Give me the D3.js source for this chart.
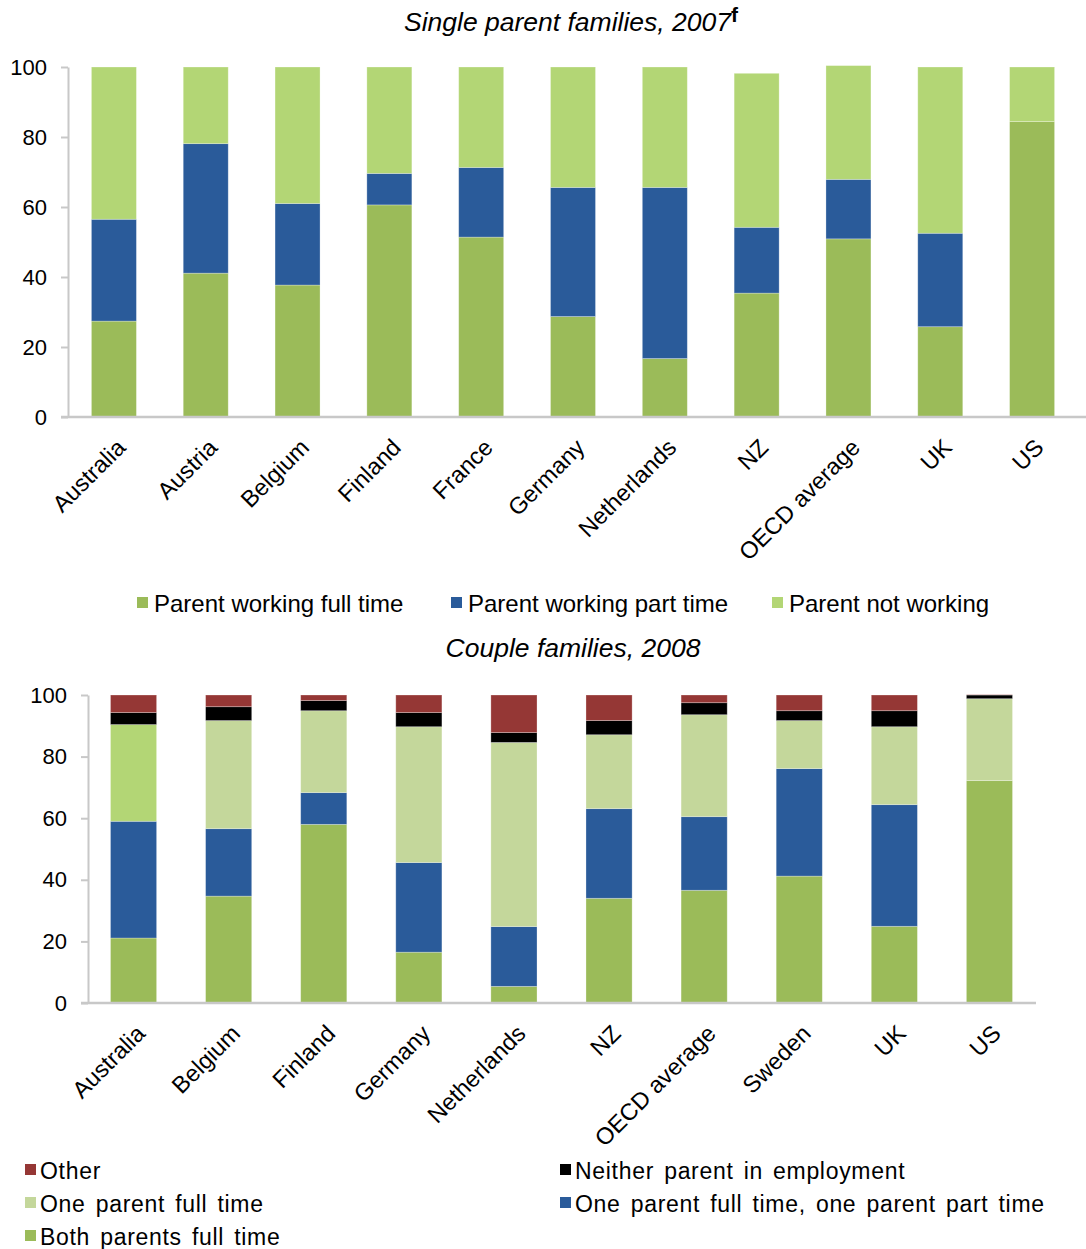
<!DOCTYPE html>
<html>
<head>
<meta charset="utf-8">
<script src="https://cdn.jsdelivr.net/npm/d3@7"></script>
<style>
  body { margin: 0; background: #fff; }
  text { font-family: "Liberation Sans", Arial, sans-serif; fill: #000; }
</style>
</head>
<body>
<div id="chart"></div>
<script>
// single parent families, 2007
var singleCountries = ["Australia", "Austria", "Belgium", "Finland", "France", "Germany",
  "Netherlands", "NZ", "OECD average", "UK", "US"];
var singleFull    = [27.4, 41.1, 37.7, 60.6, 51.4, 28.7, 16.7, 35.4, 50.9, 25.8, 84.4];
var singlePart    = [29.1, 37.0, 23.3,  9.0, 19.9, 36.9, 48.9, 18.8, 17.0, 26.7,  0.0];
var singleNotWork = [43.5, 21.9, 39.0, 30.4, 28.7, 34.4, 34.4, 44.0, 32.5, 47.5, 15.6];

// couple families, 2008
var coupleCountries = ["Australia", "Belgium", "Finland", "Germany", "Netherlands", "NZ",
  "OECD average", "Sweden", "UK", "US"];
var coupleBoth    = [21.1, 34.7, 58.0, 16.5,  5.4, 34.0, 36.6, 41.2, 24.9, 72.2];
var coupleFtPt    = [37.9, 21.9, 10.3, 29.1, 19.4, 29.1, 23.9, 34.9, 39.5,  0.0];
var coupleOneFt   = [31.4, 35.1, 26.6, 44.1, 59.8, 24.0, 33.1, 15.6, 25.3, 26.6];
var coupleNeither = [ 3.9,  4.5,  3.3,  4.6,  3.2,  4.6,  3.9,  3.2,  5.2,  1.2];
var coupleOther   = [ 5.7,  3.8,  1.8,  5.7, 12.2,  8.3,  2.5,  5.1,  5.1,  0.1];

var yTicks = [0, 20, 40, 60, 80, 100];

var svg = d3.select("#chart").append("svg")
  .attr("width", 1086)
  .attr("height", 1249);

var axisColor = "#c8c8c8";

function drawPanel(opt) {
  var rows = opt.categories.map(function(c, i) {
    var r = { cat: c };
    opt.series.forEach(function(s) { r[s.key] = s.values[i]; });
    return r;
  });
  var keys = opt.series.map(function(s) { return s.key; });
  var stacked = d3.stack().keys(keys)(rows);

  var x = d3.scaleBand()
    .domain(opt.categories)
    .range([opt.left, opt.right])
    .paddingInner(opt.pad)
    .paddingOuter(opt.pad / 2);
  var y = d3.scaleLinear().domain([0, 100]).range([opt.bottom, opt.top]);

  var g = svg.append("g");

  g.selectAll("g.layer")
    .data(stacked)
    .enter().append("g")
      .attr("class", "layer")
    .selectAll("rect")
    .data(function(d) { return d.map(function(p) { p.key = d.key; return p; }); })
    .enter().append("rect")
      .attr("x", function(d) { return x(d.data.cat); })
      .attr("width", x.bandwidth())
      .attr("y", function(d) { return y(d[1]); })
      .attr("height", function(d) { return Math.max(0, y(d[0]) - y(d[1])); })
      .attr("fill", function(d) { return opt.color(d.key, d.data.cat); })
      .attr("stroke", "#fff")
      .attr("stroke-opacity", 0.35)
      .attr("stroke-width", 0.8);

  // y axis
  var yAxis = g.append("g")
    .attr("transform", "translate(" + opt.axisX + ",0)")
    .call(d3.axisLeft(y).tickValues(yTicks).tickSize(7).tickSizeOuter(0).tickPadding(14));
  yAxis.select(".domain").attr("stroke", axisColor).attr("stroke-width", 2);
  yAxis.selectAll(".tick line").attr("stroke", axisColor).attr("stroke-width", 2);
  yAxis.selectAll(".tick text")
    .style("font-size", "22px")
    .style("font-family", "'Liberation Sans', Arial, sans-serif")
    .attr("fill", "#000");

  // base line
  g.append("line")
    .attr("x1", opt.axisX - 7).attr("x2", opt.lineEnd)
    .attr("y1", y(0)).attr("y2", y(0))
    .attr("stroke", axisColor).attr("stroke-width", 2.5);

  // category labels
  g.selectAll("text.cat")
    .data(opt.categories)
    .enter().append("text")
      .attr("class", "cat")
      .attr("text-anchor", "end")
      .attr("transform", function(d) {
        return "translate(" + (x(d) + x.bandwidth() / 2 + 13) + "," + (y(0) + 32) + ") rotate(-45)";
      })
      .style("font-size", "23.5px")
      .text(function(d) { return d; });

  return { x: x, y: y };
}

// top panel
var topColors = { full: "#9bbb59", part: "#2a5b9a", notw: "#b3d675" };
drawPanel({
  categories: singleCountries,
  series: [
    { key: "full", values: singleFull },
    { key: "part", values: singlePart },
    { key: "notw", values: singleNotWork }
  ],
  left: 68, right: 1078, axisX: 68, top: 67, bottom: 417, pad: 0.51, lineEnd: 1086,
  color: function(k) { return topColors[k]; }
});

// bottom panel
var botColors = { both: "#9bbb59", ftpt: "#2a5b9a", oneft: "#c4d79b", neither: "#000000", other: "#953735" };
drawPanel({
  categories: coupleCountries,
  series: [
    { key: "both", values: coupleBoth },
    { key: "ftpt", values: coupleFtPt },
    { key: "oneft", values: coupleOneFt },
    { key: "neither", values: coupleNeither },
    { key: "other", values: coupleOther }
  ],
  left: 86, right: 1037, axisX: 88, top: 695, bottom: 1003, pad: 0.515, lineEnd: 1036,
  color: function(k, c) {
    if (k === "oneft" && c === "Australia") return "#b3d675";
    return botColors[k];
  }
});

// titles
var t1 = svg.append("text")
  .attr("x", 571).attr("y", 31)
  .attr("text-anchor", "middle")
  .style("font-size", "26.5px")
  .style("font-style", "italic");
t1.append("tspan").text("Single parent families, 2007");
t1.append("tspan").attr("dy", -9).style("font-style", "normal").style("font-weight", "bold")
  .style("font-size", "21px").text("f");

svg.append("text")
  .attr("x", 573).attr("y", 657)
  .attr("text-anchor", "middle")
  .style("font-size", "26.5px")
  .style("font-style", "italic")
  .text("Couple families, 2008");

// legends
var topLegend = [
  { label: "Parent working full time", color: topColors.full, x: 137 },
  { label: "Parent working part time", color: topColors.part, x: 451 },
  { label: "Parent not working", color: topColors.notw, x: 772 }
];
var tl = svg.append("g").selectAll("g").data(topLegend).enter().append("g")
  .attr("transform", function(d) { return "translate(" + d.x + ",604)"; });
tl.append("rect").attr("x", 0).attr("y", -7).attr("width", 11).attr("height", 11)
  .attr("fill", function(d) { return d.color; });
tl.append("text").attr("x", 17).attr("y", 8).style("font-size", "24px")
  .text(function(d) { return d.label; });

var botLegend = [
  { label: "Other", color: botColors.other, x: 25, y: 1171 },
  { label: "Neither parent in employment", color: botColors.neither, x: 560, y: 1171 },
  { label: "One parent full time", color: botColors.oneft, x: 25, y: 1204 },
  { label: "One parent full time, one parent part time", color: botColors.ftpt, x: 560, y: 1204 },
  { label: "Both parents full time", color: botColors.both, x: 25, y: 1237 }
];
var bl = svg.append("g").selectAll("g").data(botLegend).enter().append("g")
  .attr("transform", function(d) { return "translate(" + d.x + "," + d.y + ")"; });
bl.append("rect").attr("x", 0).attr("y", -7).attr("width", 11).attr("height", 11)
  .attr("fill", function(d) { return d.color; });
bl.append("text").attr("x", 15).attr("y", 8).style("font-size", "23px")
  .style("word-spacing", "3px").style("letter-spacing", "0.7px")
  .text(function(d) { return d.label; });
</script>
</body>
</html>
